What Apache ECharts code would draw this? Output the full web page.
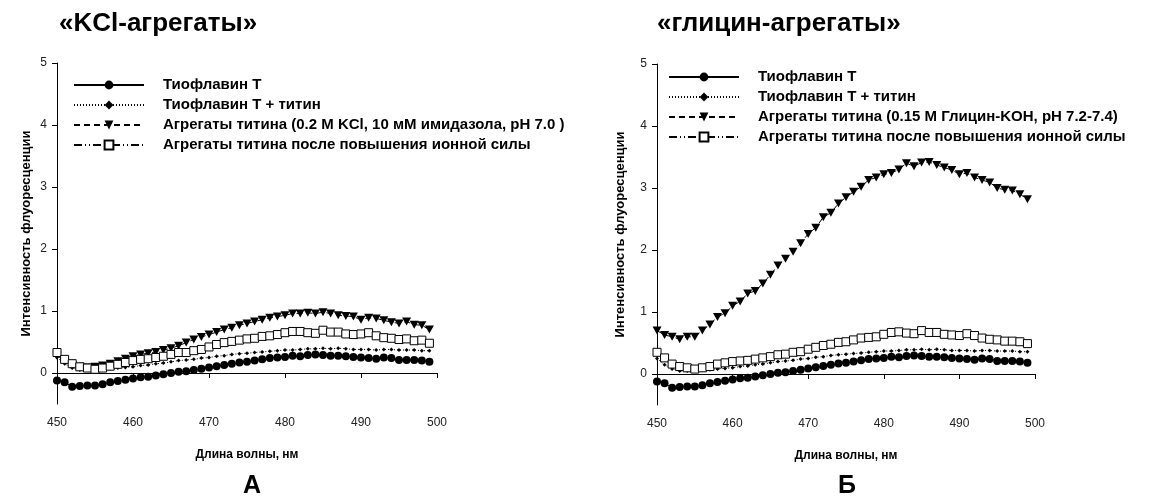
<!DOCTYPE html>
<html>
<head>
<meta charset="utf-8">
<script src="https://cdn.jsdelivr.net/npm/echarts@6/dist/echarts.min.js"></script>
<style>
  html, body { margin: 0; padding: 0; background: #fff; }
  #main { width: 1149px; height: 497px; }
</style>
</head>
<body>
<div id="main"></div>
<script>
// длины волн, нм
var wavelengths = [450,451,452,453,454,455,456,457,458,459,
                   460,461,462,463,464,465,466,467,468,469,
                   470,471,472,473,474,475,476,477,478,479,
                   480,481,482,483,484,485,486,487,488,489,
                   490,491,492,493,494,495,496,497,498,499];

// общие для обеих панелей
var thT = [-0.12,-0.15,-0.22,-0.21,-0.2,-0.2,-0.18,-0.15,-0.13,-0.11,
           -0.09,-0.07,-0.06,-0.04,-0.02,0.0,0.02,0.03,0.05,0.07,
           0.09,0.11,0.13,0.15,0.17,0.18,0.2,0.22,0.24,0.25,
           0.26,0.28,0.27,0.29,0.3,0.29,0.28,0.28,0.27,0.26,
           0.25,0.24,0.23,0.25,0.24,0.21,0.21,0.21,0.2,0.18];
var thTTitin = [0.25,0.15,0.08,0.05,0.05,0.05,0.06,0.07,0.08,0.09,
                0.1,0.12,0.13,0.15,0.16,0.18,0.2,0.21,0.22,0.24,
                0.25,0.27,0.28,0.3,0.31,0.32,0.33,0.34,0.35,0.36,
                0.37,0.37,0.38,0.39,0.39,0.4,0.39,0.4,0.39,0.38,
                0.38,0.38,0.37,0.38,0.38,0.37,0.37,0.37,0.36,0.36];

// А: KCl-агрегаты
var kclAgg = [0.28,0.2,0.13,0.1,0.09,0.1,0.12,0.15,0.19,0.23,
              0.27,0.3,0.32,0.34,0.37,0.4,0.44,0.49,0.54,0.58,
              0.62,0.66,0.7,0.73,0.77,0.8,0.83,0.86,0.89,0.91,
              0.93,0.96,0.96,0.97,0.96,0.98,0.96,0.93,0.92,0.91,
              0.86,0.89,0.88,0.85,0.82,0.8,0.83,0.78,0.77,0.7];
var kclAfter = [0.33,0.22,0.15,0.1,0.08,0.06,0.08,0.11,0.14,0.17,
                0.2,0.22,0.23,0.25,0.27,0.3,0.33,0.33,0.36,0.38,
                0.42,0.46,0.49,0.51,0.53,0.55,0.56,0.59,0.6,0.62,
                0.65,0.67,0.67,0.65,0.64,0.69,0.66,0.66,0.63,0.62,
                0.63,0.65,0.6,0.57,0.56,0.54,0.55,0.52,0.53,0.48];

// Б: глицин-агрегаты
var glyAgg = [0.7,0.63,0.6,0.56,0.6,0.6,0.7,0.8,0.92,0.98,
              1.1,1.17,1.3,1.34,1.46,1.6,1.75,1.86,1.97,2.11,
              2.26,2.36,2.53,2.6,2.75,2.85,2.94,3.02,3.13,3.17,
              3.22,3.24,3.3,3.4,3.35,3.41,3.42,3.37,3.33,3.29,
              3.22,3.24,3.17,3.13,3.09,3.0,2.97,2.96,2.9,2.82];
var glyAfter = [0.35,0.26,0.16,0.12,0.1,0.08,0.1,0.12,0.16,0.18,
                0.2,0.21,0.22,0.24,0.26,0.28,0.31,0.32,0.35,0.36,
                0.4,0.43,0.46,0.48,0.51,0.52,0.55,0.58,0.59,0.6,
                0.64,0.67,0.68,0.66,0.65,0.7,0.67,0.67,0.64,0.63,
                0.62,0.65,0.62,0.58,0.56,0.55,0.53,0.53,0.52,0.49];

var yTicks = [0, 1, 2, 3, 4, 5];

var nameThT = 'Тиофлавин Т';
var nameThTTitin = 'Тиофлавин Т + титин';
var nameKcl = 'Агрегаты титина (0.2 М KCl, 10 мМ имидазола, pH 7.0 )';
var nameGly = 'Агрегаты титина (0.15 М Глицин-KOH, pH 7.2-7.4)';
var nameAfter = 'Агрегаты титина после повышения ионной силы';

function pairs(ys) {
    return wavelengths.map(function (x, i) { return [x, ys[i]]; });
}

var font = 'Liberation Sans, Arial, sans-serif';

function xAxisOf(idx) {
    return {
        gridIndex: idx, type: 'value', min: 450, max: 500, interval: 10,
        name: 'Длина волны, нм', nameLocation: 'middle', nameGap: 45,
        nameTextStyle: { fontFamily: font, fontWeight: 'bold', fontSize: 12, color: '#000' },
        axisLine: { lineStyle: { color: '#000', width: 1 } },
        axisTick: { length: 5, lineStyle: { color: '#000' } },
        axisLabel: { fontFamily: font, fontSize: 12, color: '#222', margin: 13 },
        splitLine: { show: false }
    };
}
function yAxisOf(idx, gap) {
    return {
        gridIndex: idx, type: 'value', min: -0.5, max: 5,
        name: 'Интенсивность флуоресценции', nameLocation: 'middle', nameGap: gap,
        nameTextStyle: { fontFamily: font, fontWeight: 'bold', fontSize: 13, color: '#000' },
        axisLine: { show: true, lineStyle: { color: '#000', width: 1 } },
        axisTick: { show: true, length: 5, customValues: yTicks, lineStyle: { color: '#000' } },
        axisLabel: { fontFamily: font, fontSize: 12, color: '#222', margin: 10, customValues: yTicks },
        splitLine: { show: false }
    };
}

var triDown = 'path://M0,0L10,0L5,8.7Z';

function seriesSet(idx, aggName, agg, after) {
    return [
        { name: nameThT, type: 'line', xAxisIndex: idx, yAxisIndex: idx, data: pairs(thT),
          symbol: 'circle', symbolSize: 8, showAllSymbol: true,
          itemStyle: { color: '#000' }, lineStyle: { color: '#000', width: 1 } },
        { name: nameThTTitin, type: 'line', xAxisIndex: idx, yAxisIndex: idx, data: pairs(thTTitin),
          symbol: 'diamond', symbolSize: 4, showAllSymbol: true,
          itemStyle: { color: '#000' }, lineStyle: { color: '#000', width: 1, type: [1, 2] } },
        { name: aggName, type: 'line', xAxisIndex: idx, yAxisIndex: idx, data: pairs(agg),
          symbol: triDown, symbolSize: [9, 8], showAllSymbol: true,
          itemStyle: { color: '#000' }, lineStyle: { color: '#000', width: 1, type: [6, 4] } },
        { name: nameAfter, type: 'line', xAxisIndex: idx, yAxisIndex: idx, data: pairs(after),
          symbol: 'rect', symbolSize: 8, showAllSymbol: true,
          itemStyle: { color: '#fff', borderColor: '#000', borderWidth: 1 },
          lineStyle: { color: '#000', width: 1, type: [8, 3, 1, 3, 1, 3] } }
    ];
}

function legendOf(left, top, aggName) {
    return {
        orient: 'vertical', left: left, top: top, padding: 0,
        itemWidth: 70, itemHeight: 11, itemGap: 4,
        selectedMode: false,
        data: [nameThT, nameThTTitin, aggName, nameAfter],
        textStyle: { fontFamily: font, fontWeight: 'bold', fontSize: 15, color: '#000',
                     lineHeight: 16, padding: [0, 0, 0, 14] }
    };
}

var myChart = echarts.init(document.getElementById('main'));
myChart.setOption({
    animation: false,
    backgroundColor: '#fff',
    title: [
        { text: '«KCl-агрегаты»', left: 54, top: 6,
          textStyle: { fontFamily: font, fontWeight: 'bold', fontSize: 26, color: '#000' } },
        { text: '«глицин-агрегаты»', left: 652, top: 6,
          textStyle: { fontFamily: font, fontWeight: 'bold', fontSize: 26, color: '#000' } },
        { text: 'А', left: 238, top: 469,
          textStyle: { fontFamily: font, fontWeight: 'bold', fontSize: 25, color: '#000' } },
        { text: 'Б', left: 833, top: 469,
          textStyle: { fontFamily: font, fontWeight: 'bold', fontSize: 25, color: '#000' } }
    ],
    legend: [
        legendOf(73, 77, nameKcl),
        legendOf(668, 69, nameGly)
    ],
    grid: [
        { left: 57, top: 63, width: 380, height: 341 },
        { left: 657, top: 64, width: 378, height: 341 }
    ],
    xAxis: [xAxisOf(0), xAxisOf(1)],
    yAxis: [yAxisOf(0, 24), yAxisOf(1, 30)],
    series: seriesSet(0, nameKcl, kclAgg, kclAfter).concat(seriesSet(1, nameGly, glyAgg, glyAfter))
});
</script>
</body>
</html>
